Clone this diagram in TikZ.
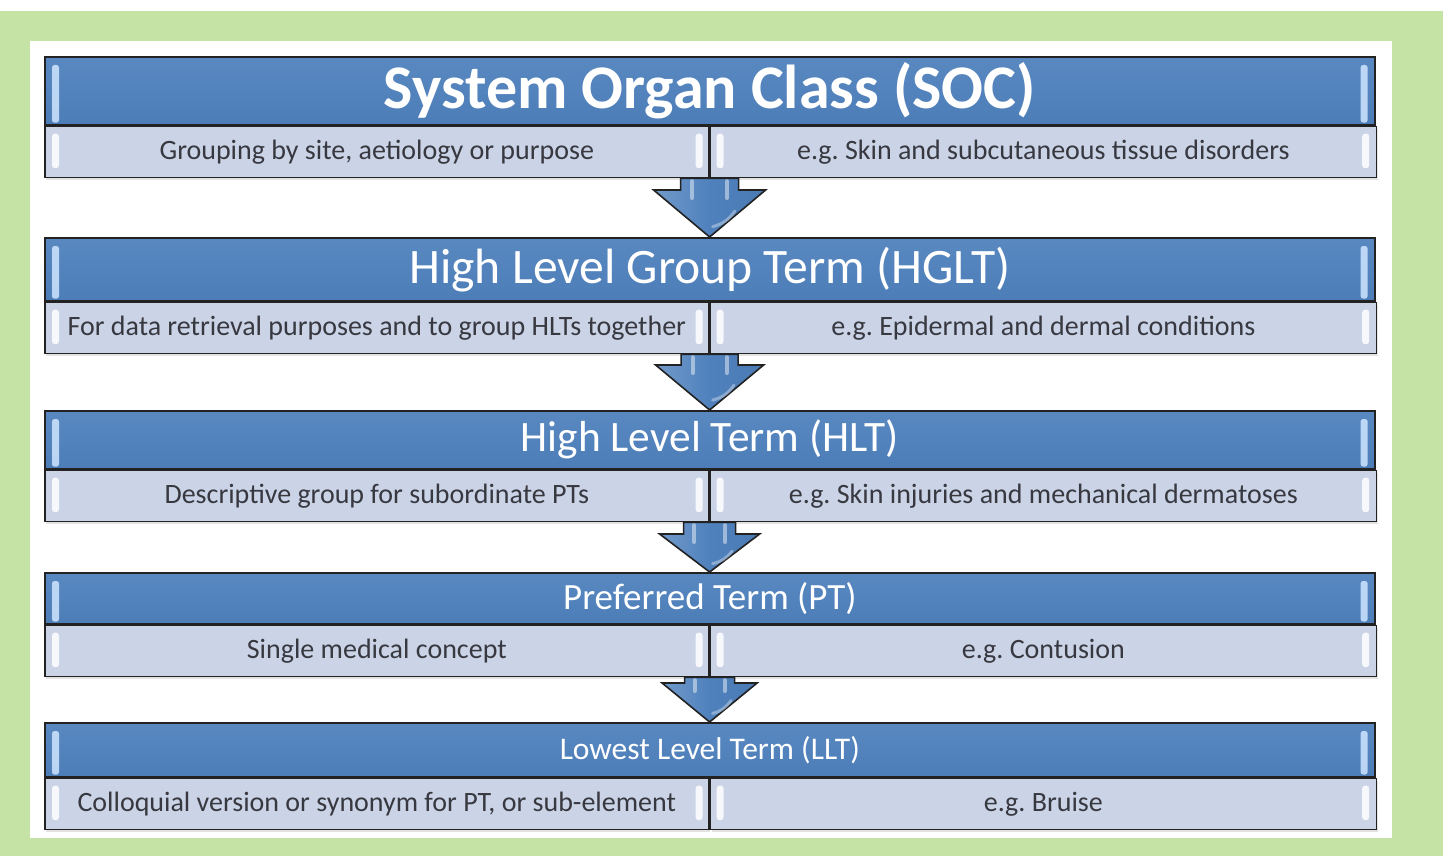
\documentclass[tikz,border=0pt]{standalone}
\usepackage{fontspec}
\setmainfont{Carlito}
\usetikzlibrary{calc,shadows}
\frenchspacing

\definecolor{bggreen}{HTML}{C5E3A5}
\definecolor{hblue}{HTML}{4F81BD}
\definecolor{sblue}{HTML}{CAD4E6}
\definecolor{tgray}{HTML}{383840}
\definecolor{edgec}{HTML}{222222}
\definecolor{glint}{HTML}{CFE6FF}

\tikzset{
  boxshadow/.style={drop shadow={opacity=.22, shadow xshift=1.5pt, shadow yshift=-3pt}},
  header/.style={draw=edgec, line width=1.6pt, top color=hblue!94!white, bottom color=hblue!97!black,
    minimum width=1330pt, minimum height=#1, inner sep=0pt, text=white, anchor=north west, boxshadow},
  subbox/.style={draw=edgec, line width=1.6pt, fill=sblue, minimum width=#1,
    inner sep=0pt, text=tgray, anchor=north west, font=\fontsize{28}{28}\selectfont, boxshadow},
  flow/.style={draw=edgec, line width=1.6pt, line join=miter, left color=hblue!80!white, right color=hblue!95!black, middle color=hblue},
  hglint/.style={fill=glint, opacity=.85, rounded corners=2.5pt},
  sglint/.style={fill=white, opacity=.85, rounded corners=3pt},
  streak/.style={draw=white, opacity=.45, line width=4pt, line cap=round},
}

% one level: header bar on top of two half-width description cells
\newcommand\level[6]{%
  % #1 name, #2 top y, #3 header height, #4 title, #5 left text, #6 right text
  \node[header=#3] (#1h) at (44,#2) {#4};
  \node[subbox=664pt, minimum height=51pt] (#1l) at (#1h.south west) {#5};
  \node[subbox=666pt, minimum height=51pt] (#1r) at (#1l.north east) {#6};
  % glossy edge highlights
  \fill[hglint] ($(#1h.north west)+(8pt,-9pt)$) rectangle ($(#1h.south west)+(15pt,3pt)$);
  \fill[hglint] ($(#1h.north east)+(-15pt,-9pt)$) rectangle ($(#1h.south east)+(-8pt,3pt)$);
  \fill[sglint] ($(#1l.north west)+(8pt,-8pt)$) rectangle ($(#1l.south west)+(15pt,10pt)$);
  \fill[sglint] ($(#1l.north east)+(-14pt,-8pt)$) rectangle ($(#1l.south east)+(-7pt,10pt)$);
  \fill[sglint] ($(#1r.north west)+(7pt,-8pt)$) rectangle ($(#1r.south west)+(14pt,10pt)$);
  \fill[sglint] ($(#1r.north east)+(-15pt,-8pt)$) rectangle ($(#1r.south east)+(-8pt,10pt)$);
}

% block arrow from the bottom of one level to the top of the next
\newcommand\flowarrow[5]{%
  % #1 from cell, #2 to header, #3 half shaft width, #4 half head width, #5 head height
  \draw[flow] let \p1=(#1.south east), \p2=(#2.north) in
    (\x1-#3,\y1) -- (\x1+#3,\y1) -- (\x1+#3,\y2+#5) -- (\x1+#4,\y2+#5) -- (\x1,\y2)
    -- (\x1-#4,\y2+#5) -- (\x1-#3,\y2+#5) -- cycle;
  \path let \p1=(#1.south east), \p2=(#2.north) in
    coordinate (#1ta) at (\x1-#3*0.6,\y1-3pt)
    coordinate (#1tb) at (\x1-#3*0.6,\y2+#5-8pt)
    coordinate (#1tc) at (\x1+#3*0.6,\y1-3pt)
    coordinate (#1td) at (\x1+#3*0.6,\y2+#5-8pt)
    coordinate (#1te) at (\x1+#4*0.45,\y2+#5*0.55)
    coordinate (#1tf) at (\x1+3pt,\y2+#5*0.22);
  \draw[streak] (#1ta) -- (#1tb);
  \draw[streak] (#1tc) -- (#1td);
  \draw[streak, line width=3pt, opacity=.35] (#1te) to[bend left=20] (#1tf);
}

\begin{document}
\begin{tikzpicture}[x=1pt, y=-1pt]
  % page and panel
  \fill[white] (0,0) rectangle (1443,856);
  \fill[bggreen] (0,11) rectangle (1443,856);
  \fill[white] (30,41) rectangle (1392,838);
  \useasboundingbox (0,0) rectangle (1443,856);

  \level{soc}{56}{68pt}{\fontsize{62}{62}\selectfont\bfseries System Organ Class (SOC)}
        {Grouping by site, aetiology or purpose}{e.g. Skin and subcutaneous tissue disorders}
  \level{hglt}{237}{63pt}{\fontsize{49.6}{49.6}\selectfont High Level Group Term (HGLT)}
        {For data retrieval purposes and to group HLTs together}{e.g. Epidermal and dermal conditions}
  \level{hlt}{410}{58pt}{\fontsize{43.4}{43.4}\selectfont High Level Term (HLT)}
        {Descriptive group for subordinate PTs}{e.g. Skin injuries and mechanical dermatoses}
  \level{pt}{572}{51pt}{\fontsize{37}{37}\selectfont Preferred Term (PT)}
        {Single medical concept}{e.g. Contusion}
  \level{llt}{722}{54pt}{\fontsize{31.5}{31.5}\selectfont Lowest Level Term (LLT)}
        {Colloquial version or synonym for PT, or sub-element}{e.g. Bruise}

  \flowarrow{socl}{hglth}{29pt}{56pt}{47pt}
  \flowarrow{hgltl}{hlth}{28.5pt}{54pt}{45pt}
  \flowarrow{hltl}{pth}{26pt}{50pt}{38pt}
  \flowarrow{ptl}{llth}{25pt}{47.5pt}{39pt}
\end{tikzpicture}
\end{document}
